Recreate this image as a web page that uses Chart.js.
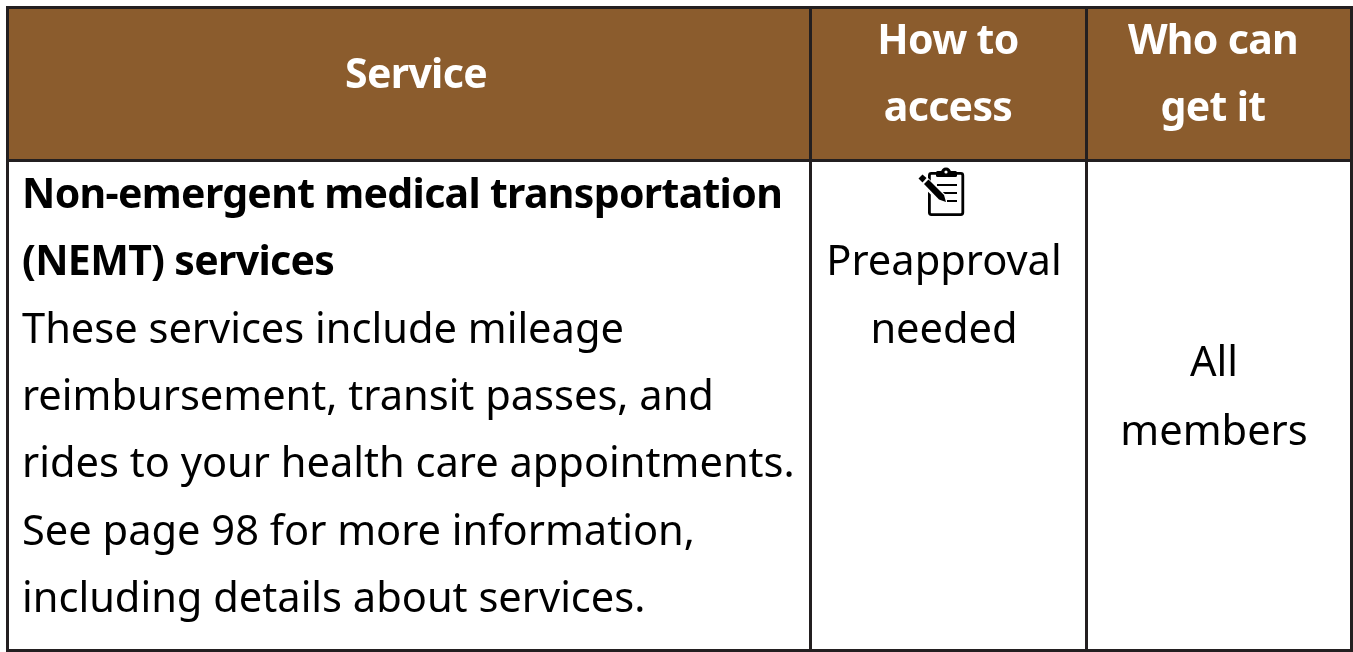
<!DOCTYPE html>
<html><head><meta charset="utf-8">
<style>html,body{margin:0;padding:0;background:#fff;overflow:hidden}canvas{display:block}</style>
<script src="https://cdn.jsdelivr.net/npm/chart.js@4"></script>
</head><body><canvas id="c" width="1353" height="652"></canvas>
<script>
const headerService = ["Service"];
const headerAccess = ["How to", "access"];
const headerWho = ["Who can", "get it"];
const serviceTitle = ["Non-emergent medical transportation", "(NEMT) services"];
const serviceBody = ["These services include mileage", "reimbursement, transit passes, and", "rides to your health care appointments.", "See page 98 for more information,", "including details about services."];
const accessBody = ["Preapproval", "needed"];
const whoBody = ["All", "members"];

const columnRules = [7.5, 810.5, 1086.5, 1351.5];
const rowRules = [7.5, 160.5, 650.5];
const INK = "#231f20", BROWN = "#8b5c2d";
const FONT = '"Noto Sans"';

const rule = (a, b) => ({type:"scatter", showLine:true, data:[a,b], borderColor:INK, borderWidth:3, pointRadius:0, clip:false, order:0});
const datasets = [
  {type:"scatter", showLine:true, data:[{x:columnRules[0],y:rowRules[0]},{x:columnRules[3],y:rowRules[0]}],
   borderColor:BROWN, borderWidth:0, pointRadius:0, fill:{value:rowRules[1]}, backgroundColor:BROWN, order:5},
  ...columnRules.map(x => rule({x,y:rowRules[0]-1.5},{x,y:rowRules[2]+1.5})),
  ...rowRules.map(y => rule({x:columnRules[0],y},{x:columnRules[3],y}))
];

function put(ctx, chart, lines, x, y0, step, opts) {
  ctx.save();
  ctx.font = (opts.bold ? "700 " : "400 ") + opts.size + "px " + FONT;
  ctx.letterSpacing = opts.bold ? "-0.68px" : "0px";
  ctx.fillStyle = opts.color || "#000";
  ctx.textAlign = opts.align || "left";
  ctx.textBaseline = "alphabetic";
  lines.forEach((t,i) => ctx.fillText(t, chart.scales.x.getPixelForValue(x), chart.scales.y.getPixelForValue(y0 + i*step)));
  ctx.restore();
}

const tablePlugin = {
  id:"tableText",
  afterDraw(chart){
    const c = chart.ctx, R = 41.6, B = 41, L = 67.4;
    put(c, chart, headerService, 416, 88, L, {size:B, bold:true, color:"#fff", align:"center"});
    put(c, chart, headerAccess, 948, 54, L, {size:B, bold:true, color:"#fff", align:"center"});
    put(c, chart, headerWho, 1213, 54, L, {size:B, bold:true, color:"#fff", align:"center"});
    put(c, chart, serviceTitle, 22, 207.5, L, {size:B, bold:true});
    put(c, chart, serviceBody, 22, 342.5, L, {size:R});
    put(c, chart, accessBody, 944, 275, 68.2, {size:R, align:"center"});
    put(c, chart, whoBody, 1214, 376, 68.8, {size:R, align:"center"});
    // clipboard-and-pencil icon
    const ix = chart.scales.x.getPixelForValue(0), iy = chart.scales.y.getPixelForValue(0);
    c.save(); c.translate(ix, iy);
    c.strokeStyle = "#000"; c.fillStyle = "#000"; c.lineJoin = "round"; c.lineCap = "butt";
    c.lineWidth = 2.8;
    c.beginPath(); c.roundRect(929.4, 173.4, 33.4, 41.2, 2); c.stroke();
    c.beginPath(); c.roundRect(936, 171, 21, 6, 1.5); c.fill();
    c.beginPath(); c.arc(946, 172.5, 5, Math.PI, 0); c.fill();
    c.fillStyle = "#fff"; c.beginPath(); c.arc(946, 172, 1.6, 0, 7); c.fill();
    c.strokeStyle = "#000"; c.lineWidth = 2;
    [[937,957,185],[942,957,193],[947,957,201]].forEach(([a,b,y]) => {c.beginPath(); c.moveTo(a,y); c.lineTo(b,y); c.stroke();});
    // pencil
    c.strokeStyle = "#fff"; c.lineWidth = 10; c.beginPath(); c.moveTo(923,180); c.lineTo(943,199); c.stroke();
    c.fillStyle = "#000";
    c.beginPath(); c.moveTo(918.5,178.5); c.lineTo(922.5,174.5); c.lineTo(926.5,178); c.lineTo(922.5,182.5); c.closePath(); c.fill();
    c.beginPath(); c.moveTo(924,184); c.lineTo(928.5,179.5); c.lineTo(944,195); c.lineTo(946,202); c.lineTo(939,199.5); c.closePath(); c.fill();
    c.restore();
  }
};

new Chart(document.getElementById("c"), {
  type:"scatter",
  data:{datasets},
  options:{
    responsive:false, animation:false, events:[],
    layout:{padding:0},
    plugins:{legend:{display:false}, tooltip:{enabled:false}, title:{display:false}},
    scales:{
      x:{type:"linear", display:false, min:0, max:1353},
      y:{type:"linear", display:false, min:0, max:652, reverse:true}
    }
  },
  plugins:[tablePlugin]
});
</script></body></html>
